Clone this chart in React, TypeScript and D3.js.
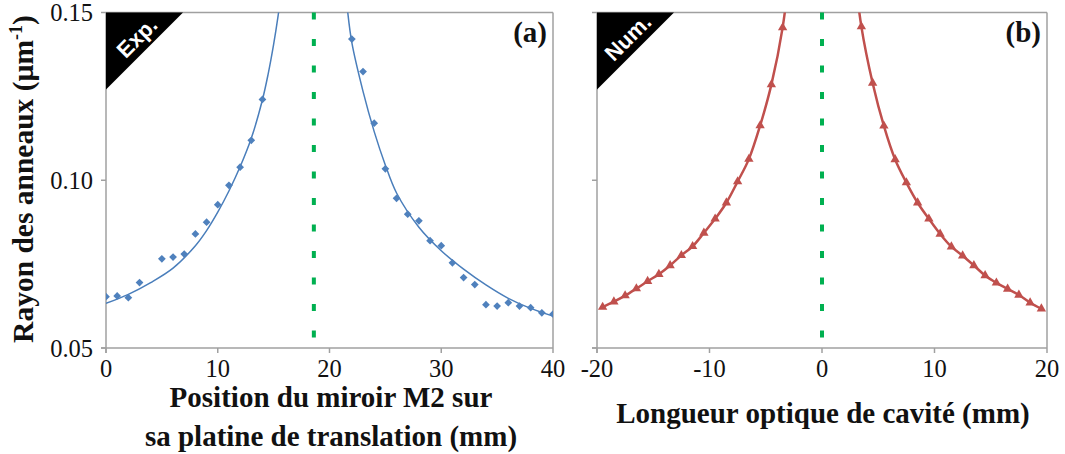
import React from "react";
import * as d3 from "d3";

// ---------- data ----------
const expX = [0, 1, 2, 3, 5, 6, 7, 8, 9, 10, 11, 12, 13, 14, 22, 23, 24, 25, 26, 27, 28, 29, 30, 31, 32, 33, 34, 35, 36, 37, 38, 39, 40];
const expY = [0.0653, 0.0655, 0.065, 0.0695, 0.0766, 0.0771, 0.078, 0.084, 0.0875, 0.0927, 0.0985, 0.1039, 0.1119, 0.1241, 0.1421, 0.1324, 0.117, 0.1034, 0.0946, 0.0899, 0.0879, 0.082, 0.0805, 0.0754, 0.071, 0.0689, 0.0629, 0.0625, 0.0635, 0.0625, 0.062, 0.0605, 0.0601];

// fitted curve of panel (a)
const fitLeftX = [0, 2, 4, 6, 8, 9, 10, 11, 12, 13, 14, 14.5, 15, 15.4, 15.8];
const fitLeftY = [0.0633, 0.066, 0.0695, 0.0738, 0.0805, 0.085, 0.0905, 0.0968, 0.104, 0.1125, 0.124, 0.1315, 0.1405, 0.149, 0.159];
const fitRightX = [21.4, 21.6, 22, 23, 24, 25, 26, 28, 30, 32, 34, 36, 38, 40];
const fitRightY = [0.158, 0.151, 0.141, 0.1265, 0.1145, 0.1045, 0.0962, 0.086, 0.079, 0.0735, 0.0688, 0.0648, 0.0618, 0.0595];

const numLeftX = [-19.5, -18.5, -17.5, -16.5, -15.5, -14.5, -13.5, -12.5, -11.5, -10.5, -9.5, -8.5, -7.5, -6.5, -5.5, -4.5, -3.5, -2.5];
const numLeftY = [0.0622, 0.0638, 0.0656, 0.0677, 0.0699, 0.072, 0.0746, 0.0776, 0.0803, 0.0843, 0.0885, 0.0933, 0.0996, 0.1063, 0.1163, 0.1285, 0.1455, 0.174];
const numRightX = [2.5, 3.5, 4.5, 5.5, 6.5, 7.5, 8.5, 9.5, 10.5, 11.5, 12.5, 13.5, 14.5, 15.5, 16.5, 17.5, 18.5, 19.5];
const numRightY = [0.174, 0.1458, 0.129, 0.1162, 0.1062, 0.0993, 0.0933, 0.0885, 0.084, 0.0802, 0.0775, 0.0746, 0.0716, 0.0694, 0.0676, 0.0658, 0.0635, 0.0617];

const markerA = 18.6;
const markerB = 0;

const yTicks = [0.05, 0.1, 0.15];
const xTicksA = [0, 10, 20, 30, 40];
const xTicksB = [-20, -10, 0, 10, 20];

const yLabel = "Rayon des anneaux (µm";
const xLabelA1 = "Position du miroir M2 sur";
const xLabelA2 = "sa platine de translation (mm)";
const xLabelB = "Longueur optique de cavité (mm)";

// ---------- layout ----------
const W = 1065;
const H = 454;
const TOP = 12.5;
const BOTTOM = 348;
const AXIS = "#a0a0a0";
const BLUE = "#4f81bd";
const BLUE_LINE = "#4a7ebb";
const RED = "#c0504d";
const GREEN = "#00b050";
const SERIF = "Liberation Serif";
const SANS = "Liberation Sans";

const yS = d3.scaleLinear().domain([0.05, 0.15]).range([BOTTOM, TOP]);
const xA = d3.scaleLinear().domain([0, 40]).range([106, 553]);
const xB = d3.scaleLinear().domain([-20, 20]).range([597, 1047]);

const zip = (xs: number[], ys: number[]) => xs.map((x, i) => [x, ys[i]] as [number, number]);

const serifStyle = { fontFamily: SERIF };
const sansStyle = { fontFamily: SANS };

function Frame({ x, showLabels, ticks }: { x: d3.ScaleLinear<number, number>; showLabels: boolean; ticks: number[] }) {
  const [x0, x1] = x.range();
  return (
    <g>
      <line x1={x0} x2={x1} y1={TOP} y2={TOP} stroke={AXIS} strokeWidth={1.5} />
      <line x1={x1} x2={x1} y1={TOP} y2={BOTTOM} stroke={AXIS} strokeWidth={1.5} />
      <line x1={x0} x2={x0} y1={TOP} y2={BOTTOM + 5} stroke={AXIS} strokeWidth={1.5} />
      <line x1={x0 - 5} x2={x1} y1={BOTTOM} y2={BOTTOM} stroke={AXIS} strokeWidth={1.5} />
      {yTicks.map((t) => (
        <g key={t}>
          <line x1={x0 - 5} x2={x0} y1={yS(t)} y2={yS(t)} stroke={AXIS} strokeWidth={1.5} />
          {showLabels && (
            <text x={x0 - 13} y={yS(t)} dy="0.35em" textAnchor="end" style={serifStyle} fontSize={24.5} fill="#111">
              {t.toFixed(2)}
            </text>
          )}
        </g>
      ))}
      {ticks.map((t) => (
        <g key={t}>
          <line x1={x(t)} x2={x(t)} y1={BOTTOM} y2={BOTTOM + 5} stroke={AXIS} strokeWidth={1.5} />
          <text x={x(t)} y={377} textAnchor="middle" style={serifStyle} fontSize={24.5} fill="#111">
            {t}
          </text>
        </g>
      ))}
    </g>
  );
}

function Corner({ x0, label }: { x0: number; label: string }) {
  const s = 77;
  return (
    <g>
      <polygon points={`${x0},${TOP} ${x0 + s},${TOP} ${x0},${TOP + s}`} fill="#000" />
      <text
        transform={`translate(${x0 + 31},${TOP + 25}) rotate(-45)`}
        textAnchor="middle"
        dominantBaseline="central"
        style={sansStyle}
        fontWeight="bold"
        fontSize={22}
        fill="#fff"
      >
        {label}
      </text>
    </g>
  );
}

export default function App() {
  const lineA = d3
    .line<[number, number]>()
    .x((d) => xA(d[0]))
    .y((d) => yS(d[1]))
    .curve(d3.curveCatmullRom.alpha(0.5));
  const lineB = d3
    .line<[number, number]>()
    .x((d) => xB(d[0]))
    .y((d) => yS(d[1]))
    .curve(d3.curveCatmullRom.alpha(0.5));

  const diamond = d3.symbol(d3.symbolSquare, 30)() as string;
  const tri = d3.symbol(d3.symbolTriangle, 38)() as string;

  const expPts = zip(expX, expY);
  const numPts = [...zip(numLeftX, numLeftY), ...zip(numRightX, numRightY)];

  return (
    <svg width={W} height={H} style={{ position: "absolute", left: 0, top: 0, background: "#fff" }}>
      <defs>
        <clipPath id="clipA">
          <rect x={xA(0)} y={TOP} width={xA(40) - xA(0)} height={BOTTOM - TOP} />
        </clipPath>
        <clipPath id="clipB">
          <rect x={xB(-20)} y={TOP} width={xB(20) - xB(-20)} height={BOTTOM - TOP} />
        </clipPath>
      </defs>
      <rect x={0} y={0} width={W} height={H} fill="#fff" />

      {/* Panel A */}
      <Frame x={xA} showLabels={true} ticks={xTicksA} />
      <line x1={xA(markerA)} x2={xA(markerA)} y1={TOP} y2={BOTTOM} stroke={GREEN} strokeWidth={4} strokeDasharray="7 19.5" />
      <g clipPath="url(#clipA)">
        <path d={lineA(zip(fitLeftX, fitLeftY)) as string} fill="none" stroke={BLUE_LINE} strokeWidth={1.5} />
        <path d={lineA(zip(fitRightX, fitRightY)) as string} fill="none" stroke={BLUE_LINE} strokeWidth={1.5} />
        {expPts.map((d, i) => (
          <path key={i} d={diamond} transform={`translate(${xA(d[0])},${yS(d[1])}) rotate(45)`} fill={BLUE} />
        ))}
      </g>
      <Corner x0={xA(0)} label="Exp." />
      <text x={547} y={42} textAnchor="end" style={serifStyle} fontWeight="bold" fontSize={29} fill="#111">
        (a)
      </text>

      {/* Panel B */}
      <Frame x={xB} showLabels={false} ticks={xTicksB} />
      <line x1={xB(markerB)} x2={xB(markerB)} y1={TOP} y2={BOTTOM} stroke={GREEN} strokeWidth={4} strokeDasharray="7 19.5" />
      <g clipPath="url(#clipB)">
        <path d={lineB(zip(numLeftX, numLeftY)) as string} fill="none" stroke={RED} strokeWidth={2.5} />
        <path d={lineB(zip(numRightX, numRightY)) as string} fill="none" stroke={RED} strokeWidth={2.5} />
        {numPts.map((d, i) => (
          <path key={i} d={tri} transform={`translate(${xB(d[0])},${yS(d[1])})`} fill={RED} />
        ))}
      </g>
      <Corner x0={xB(-20)} label="Num." />
      <text x={1041} y={42} textAnchor="end" style={serifStyle} fontWeight="bold" fontSize={29} fill="#111">
        (b)
      </text>

      {/* Axis titles */}
      <text
        transform={`translate(33,179) rotate(-90)`}
        textAnchor="middle"
        style={serifStyle}
        fontWeight="bold"
        fontSize={29.5}
        fill="#111"
      >
        {yLabel}
        <tspan dy={-11} fontSize={18}>-1</tspan>
        <tspan dy={11}>)</tspan>
      </text>
      <text x={331} y={407} textAnchor="middle" style={serifStyle} fontWeight="bold" fontSize={29} fill="#111">
        {xLabelA1}
      </text>
      <text x={331} y={446} textAnchor="middle" style={serifStyle} fontWeight="bold" fontSize={29} fill="#111">
        {xLabelA2}
      </text>
      <text x={823} y={423} textAnchor="middle" style={serifStyle} fontWeight="bold" fontSize={29} fill="#111">
        {xLabelB}
      </text>
    </svg>
  );
}
